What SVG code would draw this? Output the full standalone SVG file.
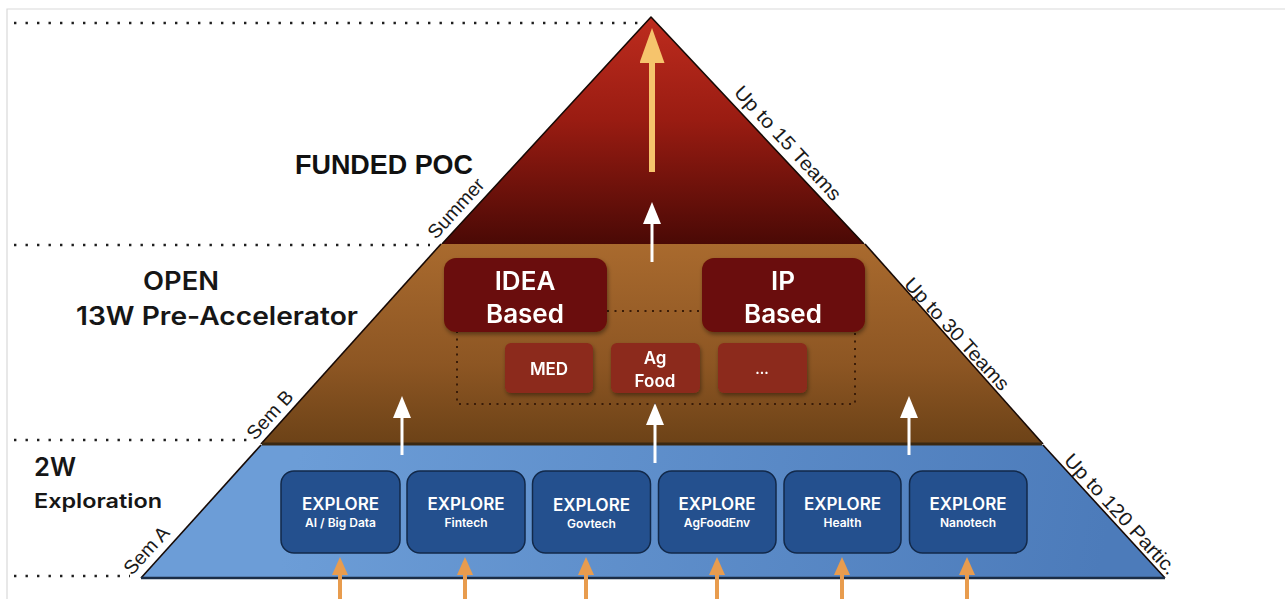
<svg xmlns="http://www.w3.org/2000/svg" width="1285" height="599" viewBox="0 0 1285 599">
  <style>
    .frame { stroke: #d9d9d9; stroke-width: 1.2; fill: none; }
    .dots { stroke: #1e1e1e; stroke-width: 2.4; stroke-dasharray: 2.4 9.1; fill: none; }
    .edge { stroke: #160905; stroke-width: 1.6; fill: none; stroke-linejoin: round; }
    .tier-title { font-family: "Liberation Sans", Arial, sans-serif; font-weight: bold; fill: #111; }
    .stage { font-family: Inter, "Open Sans", sans-serif; font-weight: 600; fill: #161616; }
    .side { font-family: "Liberation Sans", Arial, sans-serif; font-size: 19.5px; fill: #1a1a1a; }
    .track { fill: #6a0f08; }
    .sector { fill: #8c2a1b; }
    .explore { fill: #24508e; stroke: #12294a; stroke-width: 1.5; }
    .box-text { font-family: Inter, "Open Sans", sans-serif; font-weight: 600; fill: #ffffff; text-anchor: middle; }
    .arrow-white { stroke: #ffffff; stroke-width: 3; fill: none; }
    .arrow-gold { stroke: #f6c46c; stroke-width: 6; fill: none; }
    .arrow-orange { stroke: #e89c4e; stroke-width: 4; fill: none; }
    .group-outline { stroke: #3a1c08; stroke-width: 2; stroke-dasharray: 2 5.5; fill: none; }
  </style>
  <defs>
    <linearGradient id="gRed" x1="0" y1="17" x2="0" y2="244" gradientUnits="userSpaceOnUse">
      <stop offset="0" stop-color="#bd2c1e"/>
      <stop offset="0.45" stop-color="#9a1c12"/>
      <stop offset="1" stop-color="#4a0905"/>
    </linearGradient>
    <linearGradient id="gBrown" x1="0" y1="244" x2="0" y2="444" gradientUnits="userSpaceOnUse">
      <stop offset="0" stop-color="#a96a2e"/>
      <stop offset="0.6" stop-color="#8d5623"/>
      <stop offset="1" stop-color="#6c4217"/>
    </linearGradient>
    <linearGradient id="gBlue" x1="300" y1="445" x2="1100" y2="578" gradientUnits="userSpaceOnUse">
      <stop offset="0" stop-color="#6c9dd7"/>
      <stop offset="1" stop-color="#4c7bba"/>
    </linearGradient>
    <filter id="shadow" x="-20%" y="-20%" width="140%" height="150%">
      <feDropShadow dx="1" dy="2.5" stdDeviation="2" flood-color="#000" flood-opacity="0.4"/>
    </filter>
    <marker id="headWhite" viewBox="0 0 22 18" refX="12" refY="9" markerWidth="22" markerHeight="18" markerUnits="userSpaceOnUse" orient="auto">
      <path d="M0,0 L22,9 L0,18 z" fill="#ffffff"/>
    </marker>
    <marker id="headGold" viewBox="0 0 35 25" refX="20" refY="12.5" markerWidth="35" markerHeight="25" markerUnits="userSpaceOnUse" orient="auto">
      <path d="M0,0 L35,12.5 L0,25 z" fill="#f6c46c"/>
    </marker>
    <marker id="headOrange" viewBox="0 0 18 16" refX="10" refY="8" markerWidth="18" markerHeight="16" markerUnits="userSpaceOnUse" orient="auto">
      <path d="M0,0 L18,8 L0,16 z" fill="#e89c4e"/>
    </marker>
  </defs>

  <rect width="1285" height="599" fill="#ffffff"/>
  <!-- page frame -->
  <path class="frame" d="M7,599 L7,9 L1285,9"/>

  <!-- level guide lines -->
  <g id="guides">
    <line class="dots" x1="14" y1="23" x2="638" y2="23"/>
    <line class="dots" x1="14" y1="245" x2="430" y2="245"/>
    <line class="dots" x1="14" y1="440" x2="254" y2="440"/>
    <line class="dots" x1="14" y1="576" x2="130" y2="576"/>
  </g>

  <!-- pyramid tiers -->
  <g id="tier-poc">
    <polygon points="651,17 864,244 442,244" fill="url(#gRed)"/>
    <polyline class="edge" points="442,244 651,17 864,244"/>
  </g>
  <g id="tier-open">
    <polygon points="441,244 865,244 1043,444 261,444" fill="url(#gBrown)"/>
    <line class="edge" x1="441" y1="244" x2="261" y2="444"/>
    <line class="edge" x1="865" y1="244" x2="1043" y2="444"/>
  </g>
  <g id="tier-explore">
    <polygon points="261,445 1043,445 1165,578 141,578" fill="url(#gBlue)"/>
    <line class="edge" x1="261" y1="445" x2="141" y2="578"/>
    <line class="edge" x1="1043" y1="445" x2="1165" y2="578"/>
    <line x1="141" y1="578" x2="1165" y2="578" stroke="#1b2d46" stroke-width="2.5"/>
  </g>
  <line x1="262" y1="444" x2="1042" y2="444" stroke="#3a2812" stroke-width="3"/>

  <!-- tier titles -->
  <g id="title-poc">
    <text class="tier-title" x="295" y="174" font-size="27" textLength="178" lengthAdjust="spacingAndGlyphs">FUNDED POC</text>
  </g>
  <g id="title-open">
    <text class="stage" x="143" y="290" font-size="25" textLength="76" lengthAdjust="spacingAndGlyphs">OPEN</text>
    <text class="stage" x="76" y="325" font-size="25" textLength="282" lengthAdjust="spacingAndGlyphs">13W Pre-Accelerator</text>
  </g>
  <g id="title-explore">
    <text class="stage" x="34" y="476" font-size="25" textLength="42" lengthAdjust="spacingAndGlyphs">2W</text>
    <text class="stage" x="34" y="508" font-size="20" textLength="128" lengthAdjust="spacingAndGlyphs">Exploration</text>
  </g>

  <!-- side labels -->
  <g id="side-labels">
    <text class="side" transform="translate(436,240) rotate(-47.7)">Summer</text>
    <text class="side" transform="translate(255,441) rotate(-47.7)">Sem B</text>
    <text class="side" transform="translate(132,576) rotate(-47.7)">Sem A</text>
    <text class="side" transform="translate(733,93) rotate(47.5)" textLength="148" lengthAdjust="spacingAndGlyphs">Up to 15 Teams</text>
    <text class="side" transform="translate(903,285) rotate(47.5)" textLength="145" lengthAdjust="spacingAndGlyphs">Up to 30 Teams</text>
    <text class="side" transform="translate(1063,461) rotate(47.5)" textLength="156" lengthAdjust="spacingAndGlyphs">Up to 120 Partic.</text>
  </g>

  <!-- sector grouping outline -->
  <g id="sector-group">
    <path class="group-outline" d="M457,331 L457,404 L855,404 L855,331 M607,311 L702,311"/>
  </g>

  <!-- connectors -->
  <g id="connectors">
    <line class="arrow-gold" x1="652" y1="172" x2="652" y2="43" marker-end="url(#headGold)"/>
    <line class="arrow-white" x1="652" y1="262" x2="652" y2="212" marker-end="url(#headWhite)"/>
    <line class="arrow-white" x1="402" y1="455" x2="402" y2="406" marker-end="url(#headWhite)"/>
    <line class="arrow-white" x1="655" y1="463" x2="655" y2="413" marker-end="url(#headWhite)"/>
    <line class="arrow-white" x1="909" y1="455" x2="909" y2="406" marker-end="url(#headWhite)"/>
    <line class="arrow-orange" x1="340" y1="599" x2="340" y2="565" marker-end="url(#headOrange)"/>
    <line class="arrow-orange" x1="465" y1="599" x2="465" y2="565" marker-end="url(#headOrange)"/>
    <line class="arrow-orange" x1="586" y1="599" x2="586" y2="565" marker-end="url(#headOrange)"/>
    <line class="arrow-orange" x1="717" y1="599" x2="717" y2="565" marker-end="url(#headOrange)"/>
    <line class="arrow-orange" x1="842" y1="599" x2="842" y2="565" marker-end="url(#headOrange)"/>
    <line class="arrow-orange" x1="967" y1="599" x2="967" y2="565" marker-end="url(#headOrange)"/>
  </g>

  <!-- tracks -->
  <g id="idea-based" filter="url(#shadow)">
    <rect class="track" x="444" y="258" width="163" height="74" rx="12"/>
    <text class="box-text" x="525" y="290" font-size="26">IDEA</text>
    <text class="box-text" x="525" y="323" font-size="26">Based</text>
  </g>
  <g id="ip-based" filter="url(#shadow)">
    <rect class="track" x="702" y="258" width="163" height="74" rx="12"/>
    <text class="box-text" x="783" y="290" font-size="26">IP</text>
    <text class="box-text" x="783" y="323" font-size="26">Based</text>
  </g>

  <!-- sectors -->
  <g id="sector-med" filter="url(#shadow)">
    <rect class="sector" x="505" y="343" width="88" height="50" rx="6"/>
    <text class="box-text" x="549" y="375" font-size="17">MED</text>
  </g>
  <g id="sector-agfood" filter="url(#shadow)">
    <rect class="sector" x="611" y="343" width="89" height="50" rx="6"/>
    <text class="box-text" x="655" y="364" font-size="17">Ag</text>
    <text class="box-text" x="655" y="387" font-size="17">Food</text>
  </g>
  <g id="sector-more" filter="url(#shadow)">
    <rect class="sector" x="718" y="343" width="89" height="50" rx="6"/>
    <text class="box-text" x="762" y="374" font-size="14">...</text>
  </g>

  <!-- exploration tracks -->
  <g id="explore-ai">
    <rect class="explore" x="281" y="471" width="119" height="82" rx="13"/>
    <text class="box-text" x="340.5" y="510" font-size="17">EXPLORE</text>
    <text class="box-text" x="340.5" y="527" font-size="12">AI / Big Data</text>
  </g>
  <g id="explore-fintech">
    <rect class="explore" x="407" y="471" width="118" height="82" rx="13"/>
    <text class="box-text" x="466" y="510" font-size="17">EXPLORE</text>
    <text class="box-text" x="466" y="527" font-size="12">Fintech</text>
  </g>
  <g id="explore-govtech">
    <rect class="explore" x="532.5" y="471" width="118" height="82" rx="13"/>
    <text class="box-text" x="591.5" y="511" font-size="17">EXPLORE</text>
    <text class="box-text" x="591.5" y="528" font-size="12">Govtech</text>
  </g>
  <g id="explore-agfoodenv">
    <rect class="explore" x="658.5" y="471" width="117.5" height="82" rx="13"/>
    <text class="box-text" x="717" y="510" font-size="17">EXPLORE</text>
    <text class="box-text" x="717" y="527" font-size="12">AgFoodEnv</text>
  </g>
  <g id="explore-health">
    <rect class="explore" x="784" y="471" width="117" height="82" rx="13"/>
    <text class="box-text" x="842.5" y="510" font-size="17">EXPLORE</text>
    <text class="box-text" x="842.5" y="527" font-size="12">Health</text>
  </g>
  <g id="explore-nanotech">
    <rect class="explore" x="909.5" y="471" width="117.5" height="82" rx="13"/>
    <text class="box-text" x="968" y="510" font-size="17">EXPLORE</text>
    <text class="box-text" x="968" y="527" font-size="12">Nanotech</text>
  </g>
</svg>
